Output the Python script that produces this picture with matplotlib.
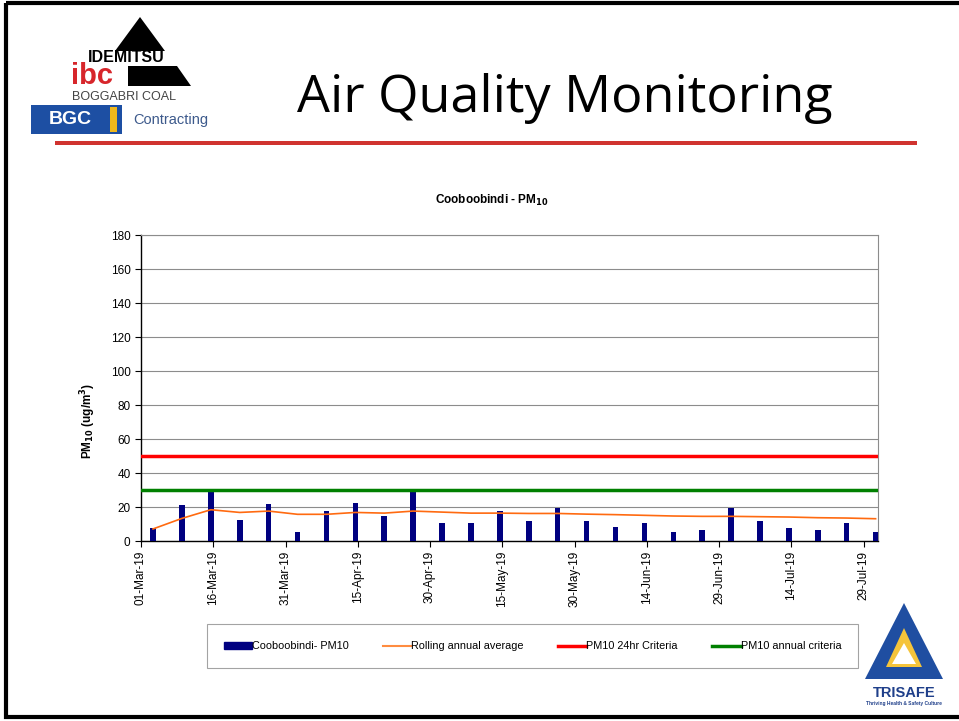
import datetime as dt
import matplotlib
matplotlib.use("Agg")
import matplotlib.pyplot as plt
import matplotlib.dates as mdates
from matplotlib.patches import Polygon, Rectangle
from matplotlib.lines import Line2D

# 数据: 每6天一次采样
sample_start = dt.datetime(2019, 3, 3)
sample_step_days = 6
pm10_values = [7.5, 21, 29, 12.5, 21.5, 5.5, 17.5, 22.5, 14.5, 30,
               10.5, 10.5, 17.5, 11.5, 19.5, 11.5, 8.5, 10.5, 5.5, 6.5,
               19.5, 11.5, 7.5, 6.5, 10.5, 5.5]
rolling_avg = [7.1, 13.3, 18.4, 16.8, 17.6, 15.7, 15.7, 16.8, 16.4, 17.6,
               17.0, 16.4, 16.4, 16.2, 16.2, 15.8, 15.5, 15.1, 14.7, 14.5,
               14.5, 14.3, 14.1, 13.7, 13.5, 13.1]
criteria_24hr = 50
criteria_annual = 30
y_ticks = list(range(0, 181, 20))

# Excel日期轴: 数据点位于当天的中间
dates = [sample_start + dt.timedelta(days=sample_step_days * i, hours=12) for i in range(len(pm10_values))]
tick_dates = [dt.datetime(2019, 3, 1) + dt.timedelta(days=15 * i) for i in range(11)]

plt.rcParams['font.family'] = ['Liberation Sans', 'DejaVu Sans']

W, H = 959, 721
fig = plt.figure(figsize=(W / 100, H / 100), dpi=100)

# 图表区域
ax = fig.add_axes([141 / W, 1 - 541 / H, (878 - 141) / W, (541 - 235) / H])
ax.bar(dates, pm10_values, width=1.15, color='#000080', zorder=3)
ax.plot(dates, rolling_avg, color='#ff6a10', lw=1.2, zorder=4)
ax.axhline(criteria_24hr, color='#ff0000', lw=2.5, zorder=4)
ax.axhline(criteria_annual, color='#008000', lw=2.5, zorder=4)

ax.set_xlim(dt.datetime(2019, 3, 1), dt.datetime(2019, 8, 1))
ax.set_ylim(0, 180)
ax.set_yticks(y_ticks)
ax.set_xticks(tick_dates)
ax.xaxis.set_major_formatter(mdates.DateFormatter('%d-%b-%y'))
ax.tick_params(axis='x', rotation=90, labelsize=8.5, length=4, pad=3)
ax.tick_params(axis='y', labelsize=8.5, length=4)
ax.grid(axis='y', color='#8c8c8c', lw=0.8, zorder=0)
for s in ['top', 'right']:
    ax.spines[s].set_color('#8c8c8c')
for s in ['left', 'bottom']:
    ax.spines[s].set_color('black')
    ax.spines[s].set_linewidth(1.0)

fig.text(492 / W, 1 - 200 / H, r'Cooboobindi - PM$_{\mathbf{10}}$', ha='center', va='center',
         fontsize=8.5, fontweight='bold')
fig.text(88 / W, 1 - 421 / H, r'PM$_{\mathbf{10}}$ (ug/m$^{\mathbf{3}}$)', ha='center', va='center',
         rotation=90, fontsize=8.5, fontweight='bold')

# 图例 (框: x 207-858, y 621-668)
handles = [Rectangle((0, 0), 1, 1, color='#000080'),
           Line2D([], [], color='#ff8c40', lw=1.5),
           Line2D([], [], color='#ff0000', lw=2.5),
           Line2D([], [], color='#008000', lw=2.5)]
labels = ['Cooboobindi- PM10', 'Rolling annual average', 'PM10 24hr Criteria', 'PM10 annual criteria']
leg = fig.legend(handles, labels, loc='lower left', ncol=4, mode='expand',
                 bbox_to_anchor=(207 / W, 1 - 668 / H, (858 - 207) / W, 47 / H),
                 fontsize=7.8, frameon=True, fancybox=False, edgecolor='#8c8c8c',
                 handlelength=2.6, handleheight=0.6, handletextpad=0.0,
                 borderpad=1.55, borderaxespad=0)
leg.get_frame().set_linewidth(0.8)

# 幻灯片叠加层
ov = fig.add_axes([0, 0, 1, 1], zorder=-1)
ov.set_xlim(0, W)
ov.set_ylim(H, 0)
ov.axis('off')
ov.add_patch(Rectangle((6, 3), W, 714, fill=False, ec='black', lw=3))
ov.add_patch(Rectangle((55, 141), 862, 4, color='#d0332f', lw=0))
ov.text(565, 99, 'Air Quality Monitoring', ha='center', va='center', fontsize=37.5,
        family=['Open Sans', 'DejaVu Sans'])

# Idemitsu / BGC 标志
ov.add_patch(Polygon([[140, 17], [115, 51], [165, 51]], color='black', lw=0))
ov.add_patch(Polygon([[128, 66], [177, 66], [191, 86], [128, 86]], color='black', lw=0))
ov.text(126, 58, 'IDEMITSU', ha='center', va='center', fontsize=11.5, fontweight='bold')
ov.text(92, 76, 'ibc', ha='center', va='center', fontsize=21, fontweight='bold', color='#d7262b')
ov.text(124, 97, 'BOGGABRI COAL', ha='center', va='center', fontsize=9, color='#444444')
ov.add_patch(Rectangle((31, 105), 91, 29, color='#1d4fa3', lw=0))
ov.add_patch(Rectangle((110, 107), 7, 25, color='#f0b81c', lw=0))
ov.text(70, 120, 'BGC', ha='center', va='center', fontsize=14, fontweight='bold', color='white')
ov.text(171, 120, 'Contracting', ha='center', va='center', fontsize=10.5, color='#3d5a8c')

# TRISAFE 标志
ov.add_patch(Polygon([[904, 603], [865, 679], [943, 679]], color='#1f4ea1', lw=0))
ov.add_patch(Polygon([[904, 628], [886, 667], [922, 667]], color='#f5c43a', lw=0))
ov.add_patch(Polygon([[904, 643], [892, 664], [916, 664]], color='white', lw=0))
ov.text(904, 693, 'TRISAFE', ha='center', va='center', fontsize=10.5, fontweight='bold', color='#1f3f8a')
ov.text(904, 704, 'Thriving Health & Safety Culture', ha='center', va='center', fontsize=3.5,
        fontweight='bold', color='#1f3f8a')

fig.savefig('out.png', dpi=100)
